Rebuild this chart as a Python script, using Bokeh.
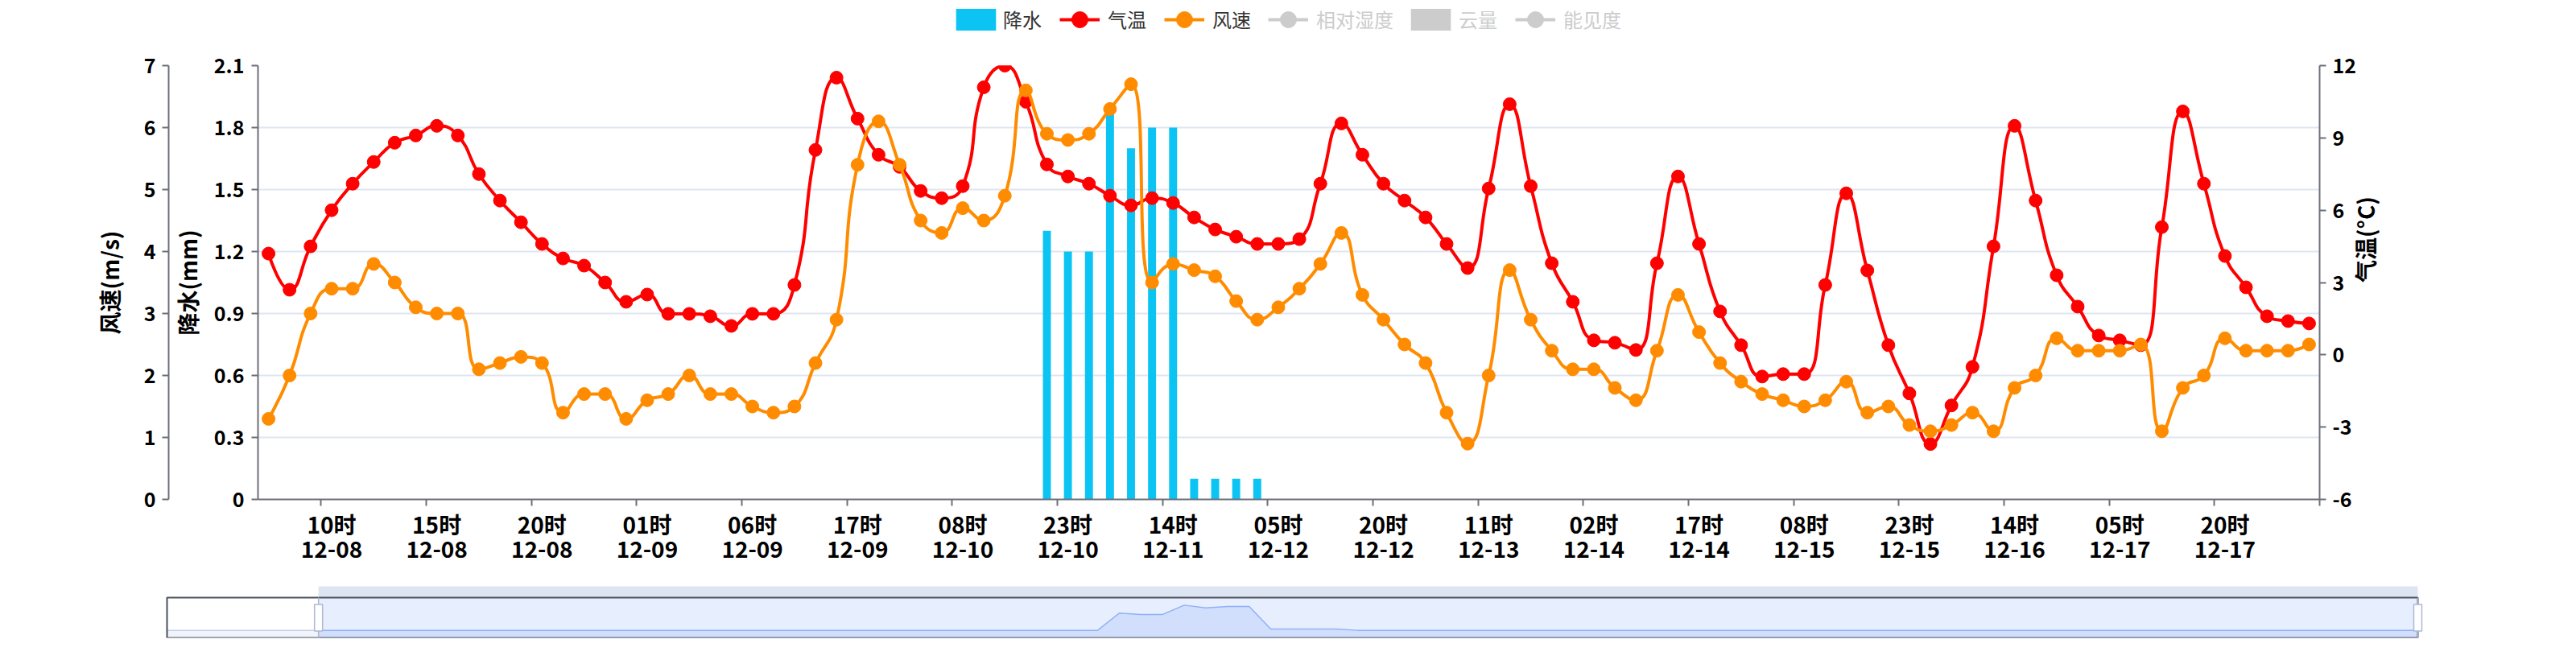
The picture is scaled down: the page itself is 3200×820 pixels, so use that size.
import math
import pandas as pd
from bokeh.plotting import figure
from bokeh.models import Range1d, LinearAxis, FixedTicker, Legend, LegendItem
from bokeh.layouts import column, row
from bokeh.embed import file_html
from bokeh.resources import INLINE

# ---------------- data ----------------
hourly_times = pd.date_range("2023-12-08 00:00", "2023-12-09 08:00", freq="h")
three_hourly_times = pd.date_range("2023-12-09 11:00", "2023-12-18 08:00", freq="3h")
times = list(hourly_times) + list(three_hourly_times)
time_labels = [f"{t:%H}时\n{t:%m-%d}" for t in times]

view_start = 7          # data-zoom window starts at this index
label_interval = 5

# precipitation (mm), whole series (the first 7 points are outside the zoom window)
precip = [0, 0, 0, 0, 0, 0, 0, 0, 0, 0,
          0, 0, 0, 0, 0, 0, 0, 0, 0, 0,
          0, 0, 0, 0, 0, 0, 0, 0, 0, 0,
          0, 0, 0, 0, 0, 0, 0, 0, 0, 0,
          0, 0, 0, 0, 1.3, 1.2, 1.2, 1.9, 1.7, 1.8,
          1.8, 0.1, 0.1, 0.1, 0.1, 0, 0, 0, 0, 0,
          0, 0, 0, 0, 0, 0, 0, 0, 0, 0,
          0, 0, 0, 0, 0, 0, 0, 0, 0, 0,
          0, 0, 0, 0, 0, 0, 0, 0, 0, 0,
          0, 0, 0, 0, 0, 0, 0, 0, 0, 0,
          0, 0, 0, 0, 0]

# temperature (°C) inside the zoom window
temperature = [4.2, 2.7, 4.5, 6.0, 7.1, 8.0, 8.8, 9.1, 9.5, 9.1,
               7.5, 6.4, 5.5, 4.6, 4.0, 3.7, 3.0, 2.2, 2.5, 1.7,
               1.7, 1.6, 1.2, 1.7, 1.7, 2.9, 8.5, 11.5, 9.8, 8.3,
               7.8, 6.8, 6.5, 7.0, 11.1, 12.0, 10.5, 7.9, 7.4, 7.1,
               6.6, 6.2, 6.5, 6.3, 5.7, 5.2, 4.9, 4.6, 4.6, 4.8,
               7.1, 9.6, 8.3, 7.1, 6.4, 5.7, 4.6, 3.6, 6.9, 10.4,
               7.0, 3.8, 2.2, 0.6, 0.5, 0.2, 3.8, 7.4, 4.6, 1.8,
               0.4, -0.9, -0.8, -0.8, 2.9, 6.7, 3.5, 0.4, -1.6, -3.7,
               -2.1, -0.5, 4.5, 9.5, 6.4, 3.3, 2.0, 0.8, 0.6, 0.4,
               5.3, 10.1, 7.1, 4.1, 2.8, 1.6, 1.4, 1.3]

# wind speed (m/s) inside the zoom window
wind = [1.3, 2.0, 3.0, 3.4, 3.4, 3.8, 3.5, 3.1, 3.0, 3.0,
        2.1, 2.2, 2.3, 2.2, 1.4, 1.7, 1.7, 1.3, 1.6, 1.7,
        2.0, 1.7, 1.7, 1.5, 1.4, 1.5, 2.2, 2.9, 5.4, 6.1,
        5.4, 4.5, 4.3, 4.7, 4.5, 4.9, 6.6, 5.9, 5.8, 5.9,
        6.3, 6.7, 3.5, 3.8, 3.7, 3.6, 3.2, 2.9, 3.1, 3.4,
        3.8, 4.3, 3.3, 2.9, 2.5, 2.2, 1.4, 0.9, 2.0, 3.7,
        2.9, 2.4, 2.1, 2.1, 1.8, 1.6, 2.4, 3.3, 2.7, 2.2,
        1.9, 1.7, 1.6, 1.5, 1.6, 1.9, 1.4, 1.5, 1.2, 1.1,
        1.2, 1.4, 1.1, 1.8, 2.0, 2.6, 2.4, 2.4, 2.4, 2.5,
        1.1, 1.8, 2.0, 2.6, 2.4, 2.4, 2.4, 2.5]

precip_ticks = [0, 0.3, 0.6, 0.9, 1.2, 1.5, 1.8, 2.1]
precip_tick_labels = ["0", "0.3", "0.6", "0.9", "1.2", "1.5", "1.8", "2.1"]
wind_ticks = [0, 1, 2, 3, 4, 5, 6, 7]
wind_tick_labels = ["0", "1", "2", "3", "4", "5", "6", "7"]
temp_ticks = [-6, -3, 0, 3, 6, 9, 12]
temp_tick_labels = ["-6", "-3", "0", "3", "6", "9", "12"]

legend_names = ["降水", "气温", "风速", "相对湿度", "云量", "能见度"]

# ---------------- style ----------------
FONT = "Noto Sans CJK SC"
AXIS_C = "#6E7079"
GRID_C = "#E0E6F1"
BAR_C = "#0cc4f4"
TEMP_C = "#ff0000"
WIND_C = "#ff8c00"
OFF_C = "#cccccc"

n_total = len(times)
x_all = list(range(n_total))
x_view = list(range(view_start, n_total))
label_idx = [i for i in range(0, n_total, label_interval) if i >= view_start]

FRAME_W, FRAME_H = 2561, 539
BORDER_L, BORDER_R = 320, 319


def echarts_smooth(xs, ys, kx, ky, smooth=0.5):
    """Bezier segments like ECharts' smooth line (computed in pixel space)."""
    pts = [(x * kx, y * ky) for x, y in zip(xs, ys)]
    n = len(pts)
    seg = {k: [] for k in ("x0", "y0", "x1", "y1", "cx0", "cy0", "cx1", "cy1")}
    px, py = pts[0]
    c0x, c0y = px, py
    for k in range(1, n):
        x, y = pts[k]
        if (x - px) ** 2 + (y - py) ** 2 < 0.5:
            continue
        if k == n - 1:
            c1x, c1y = x, y
            ncx, ncy = x, y
        else:
            nx, ny = pts[k + 1]
            vx, vy = nx - px, ny - py
            lp = math.hypot(x - px, y - py)
            ln = math.hypot(nx - x, ny - y)
            ratio = ln / (ln + lp)
            ncx = x + vx * smooth * ratio
            ncy = y + vy * smooth * ratio
            ncx = max(min(ncx, max(nx, x)), min(nx, x))
            ncy = max(min(ncy, max(ny, y)), min(ny, y))
            vx, vy = ncx - x, ncy - y
            c1x = x - vx * lp / ln
            c1y = y - vy * lp / ln
            c1x = max(min(c1x, max(px, x)), min(px, x))
            c1y = max(min(c1y, max(py, y)), min(py, y))
            vx, vy = x - c1x, y - c1y
            ncx = x + vx * ln / lp
            ncy = y + vy * ln / lp
        seg["x0"].append(px / kx); seg["y0"].append(py / ky)
        seg["x1"].append(x / kx); seg["y1"].append(y / ky)
        seg["cx0"].append(c0x / kx); seg["cy0"].append(c0y / ky)
        seg["cx1"].append(c1x / kx); seg["cy1"].append(c1y / ky)
        c0x, c0y = ncx, ncy
        px, py = x, y
    return seg


def style_axis(ax, label_size="25px"):
    ax.axis_line_color = AXIS_C
    ax.axis_line_width = 2
    ax.major_tick_line_color = AXIS_C
    ax.major_tick_line_width = 2
    ax.major_tick_in = 0
    ax.major_tick_out = 8
    ax.minor_tick_line_color = None
    ax.major_label_text_font = FONT
    ax.major_label_text_font_size = label_size
    ax.major_label_text_font_style = "bold"
    ax.major_label_text_color = "#000000"
    ax.axis_label_text_font = FONT
    ax.axis_label_text_font_size = "28px"
    ax.axis_label_text_font_style = "bold"
    ax.axis_label_text_color = "#000000"


# ---------------- legend strip ----------------
LEG_H = 60
lg = figure(width=3200, height=LEG_H, output_backend="svg", toolbar_location=None,
            x_range=Range1d(0, 1), y_range=Range1d(0, 1), x_axis_type=None, y_axis_type=None,
            min_border_left=BORDER_L, min_border_right=BORDER_R, min_border_top=0, min_border_bottom=0)
lg.outline_line_color = None
lg.grid.visible = False

# legend swatch glyphs: one point each, parked outside the visible range
OUT = [-10]
OUT2 = [-10, -9]
lg_bar = lg.vbar(x=OUT, top=OUT, width=0.4, fill_color=BAR_C, line_color=None)
lg_t_l = lg.line(x=OUT2, y=[-10, -10], line_color=TEMP_C, line_width=4)
lg_t_s = lg.scatter(x=OUT, y=OUT, fill_color=TEMP_C, line_color=TEMP_C)
lg_w_l = lg.line(x=OUT2, y=[-10, -10], line_color=WIND_C, line_width=4)
lg_w_s = lg.scatter(x=OUT, y=OUT, fill_color=WIND_C, line_color=WIND_C)
lg_off_l = lg.line(x=OUT2, y=[-10, -10], line_color=OFF_C, line_width=4)
lg_off_s = lg.scatter(x=OUT, y=OUT, fill_color=OFF_C, line_color=OFF_C)
lg_off_b = lg.vbar(x=OUT, top=OUT, width=0.4, fill_color=OFF_C, line_color=None)

LEG_CY = 23.5   # legend centre, px from top


def add_legend(items, x_left, gw, gh, color, standoff, h_est):
    leg = Legend(items=items, location=(x_left - BORDER_L, LEG_H - LEG_CY - h_est / 2),
                 orientation="horizontal", padding=0, margin=0, spacing=22,
                 label_standoff=standoff, glyph_width=gw, glyph_height=gh,
                 label_text_font=FONT, label_text_font_size="24px",
                 label_text_color=color, border_line_color=None,
                 background_fill_alpha=0)
    lg.add_layout(leg)


add_legend([LegendItem(label=legend_names[0], renderers=[lg_bar])], 1181, 62, 34, "#333333", 3, 35)
add_legend([LegendItem(label=legend_names[1], renderers=[lg_t_l, lg_t_s]),
            LegendItem(label=legend_names[2], renderers=[lg_w_l, lg_w_s])], 1316, 50, 50, "#333333", 10, 50)
add_legend([LegendItem(label=legend_names[3], renderers=[lg_off_l, lg_off_s])], 1575, 50, 50, OFF_C, 10, 50)
add_legend([LegendItem(label=legend_names[4], renderers=[lg_off_b])], 1746, 62, 34, OFF_C, 4, 35)
add_legend([LegendItem(label=legend_names[5], renderers=[lg_off_l, lg_off_s])], 1882, 50, 50, OFF_C, 10, 50)

# ---------------- main chart ----------------
p = figure(width=3200, height=660, output_backend="svg", toolbar_location=None,
           x_range=Range1d(view_start - 0.5, n_total - 0.5),
           y_range=Range1d(precip_ticks[0], precip_ticks[-1]),
           min_border_left=BORDER_L, min_border_right=BORDER_R, min_border_top=21, min_border_bottom=100)
p.outline_line_color = None
p.background_fill_color = "white"
p.xgrid.visible = False
p.ygrid.grid_line_color = GRID_C
p.ygrid.grid_line_width = 2
p.extra_y_ranges = {"wind": Range1d(wind_ticks[0], wind_ticks[-1]),
                    "temp": Range1d(temp_ticks[0], temp_ticks[-1])}

# x axis: tick marks at category boundaries
xa = p.xaxis[0]
style_axis(xa)
tick_pos = [i - 0.5 for i in label_idx] + [n_total - 0.5]
xa.ticker = FixedTicker(ticks=tick_pos)
xa.major_label_overrides = {t: "" for t in tick_pos}
xa.major_label_standoff = 0

# x labels centred on categories
xl = LinearAxis(ticker=FixedTicker(ticks=label_idx),
                major_label_overrides={i: time_labels[i] for i in label_idx})
style_axis(xl, "28px")
xl.axis_line_color = None
xl.major_tick_line_color = None
xl.major_tick_out = 0
xl.major_label_standoff = 2
xl.major_label_text_line_height = 0.75
p.add_layout(xl, "below")

# precipitation axis (inner left)
ya = p.yaxis[0]
style_axis(ya)
ya.ticker = FixedTicker(ticks=precip_ticks)
ya.major_label_overrides = dict(zip(precip_ticks, precip_tick_labels))
ya.major_label_standoff = 9
ya.axis_label = "降水(mm)"
ya.axis_label_standoff = 10

spacer = LinearAxis(ticker=FixedTicker(ticks=[]), axis_line_color=None,
                    major_tick_line_color=None, minor_tick_line_color=None,
                    major_tick_in=0, major_tick_out=14, major_label_standoff=0)
p.add_layout(spacer, "left")

wa = LinearAxis(y_range_name="wind", ticker=FixedTicker(ticks=wind_ticks),
                major_label_overrides=dict(zip(wind_ticks, wind_tick_labels)),
                axis_label="风速(m/s)")
style_axis(wa)
wa.major_label_standoff = 8
wa.axis_label_standoff = 20
p.add_layout(wa, "left")

ta = LinearAxis(y_range_name="temp", ticker=FixedTicker(ticks=temp_ticks),
                major_label_overrides=dict(zip(temp_ticks, temp_tick_labels)),
                axis_label="气温(°C)")
style_axis(ta)
ta.major_label_standoff = 8
ta.axis_label_standoff = 8
try:
    ta.axis_label_orientation = math.pi / 2
except Exception:
    pass
p.add_layout(ta, "right")

# bars
p.vbar(x=x_all, top=precip, width=0.38, fill_color=BAR_C, line_color=None)

# smooth lines
kx = FRAME_W / (n_total - view_start)
t_seg = echarts_smooth(x_view, temperature, kx, FRAME_H / (temp_ticks[-1] - temp_ticks[0]))
p.bezier(line_color=TEMP_C, line_width=4, y_range_name="temp", **t_seg)
p.scatter(x_view, temperature, size=16, fill_color=TEMP_C, line_color=TEMP_C, y_range_name="temp")

w_seg = echarts_smooth(x_view, wind, kx, FRAME_H / (wind_ticks[-1] - wind_ticks[0]))
p.bezier(line_color=WIND_C, line_width=4, y_range_name="wind", **w_seg)
p.scatter(x_view, wind, size=16, fill_color=WIND_C, line_color=WIND_C, y_range_name="wind")

# ---------------- data-zoom slider ----------------
SL_BOX_W, SL_BOX_H = 2796, 50
px_per_idx = SL_BOX_W / (n_total - 1)
pmax = max(precip)
sh_lo, sh_hi = -0.3 * pmax, 1.3 * pmax
sl_top = sh_lo + (sh_hi - sh_lo) * 65 / SL_BOX_H

s = figure(width=3200, height=100, output_backend="svg", toolbar_location=None,
           x_range=Range1d(-7 / px_per_idx, n_total - 1 + 9 / px_per_idx),
           y_range=Range1d(sh_lo, sl_top), x_axis_type=None, y_axis_type=None,
           min_border_left=200, min_border_right=188, min_border_top=7, min_border_bottom=28)
s.outline_line_color = None
s.grid.visible = False

# filler of the selected window
s.quad(left=[view_start], right=[n_total - 1], bottom=[sh_lo], top=[sh_hi],
       fill_color="#87afff", fill_alpha=0.2, line_color=None)
# data shadow outside / inside the window
out_x = x_all[:view_start + 1]
out_y = precip[:view_start + 1]
s.patch([out_x[0]] + out_x + [out_x[-1]], [sh_lo] + out_y + [sh_lo],
        fill_color="#d2dbee", fill_alpha=0.3, line_color=None)
s.line(out_x, out_y, line_color="#c5cfe4", line_width=1.5)
in_x = x_all[view_start:]
in_y = precip[view_start:]
s.patch([in_x[0]] + in_x + [in_x[-1]], [sh_lo] + in_y + [sh_lo],
        fill_color="#8fb0f7", fill_alpha=0.25, line_color=None)
s.line(in_x, in_y, line_color="#8fb0f7", line_width=1.5)
# move handle bar
s.quad(left=[view_start], right=[n_total - 1], bottom=[sh_hi],
       top=[sh_hi + (sh_hi - sh_lo) * 14 / SL_BOX_H],
       fill_color="#d2dbee", fill_alpha=0.75, line_color=None)
# outer box
s.quad(left=[0], right=[n_total - 1], bottom=[sh_lo], top=[sh_hi],
       fill_color=None, line_color="#4b505c", line_width=2)
# handles
s.segment(x0=[view_start, n_total - 1], y0=[sh_lo, sh_lo], x1=[view_start, n_total - 1], y1=[sh_hi, sh_hi],
          line_color="#acb8d1", line_width=1.5)
s.rect(x=[view_start, n_total - 1], y=[(sh_lo + sh_hi) / 2] * 2, width=10, height=33,
       width_units="screen", height_units="screen", fill_color="white",
       line_color="#acb8d1", line_width=1.5)

layout = column(lg, p, row(s), spacing=0)
open("out.html", "w").write(file_html(layout, INLINE))
